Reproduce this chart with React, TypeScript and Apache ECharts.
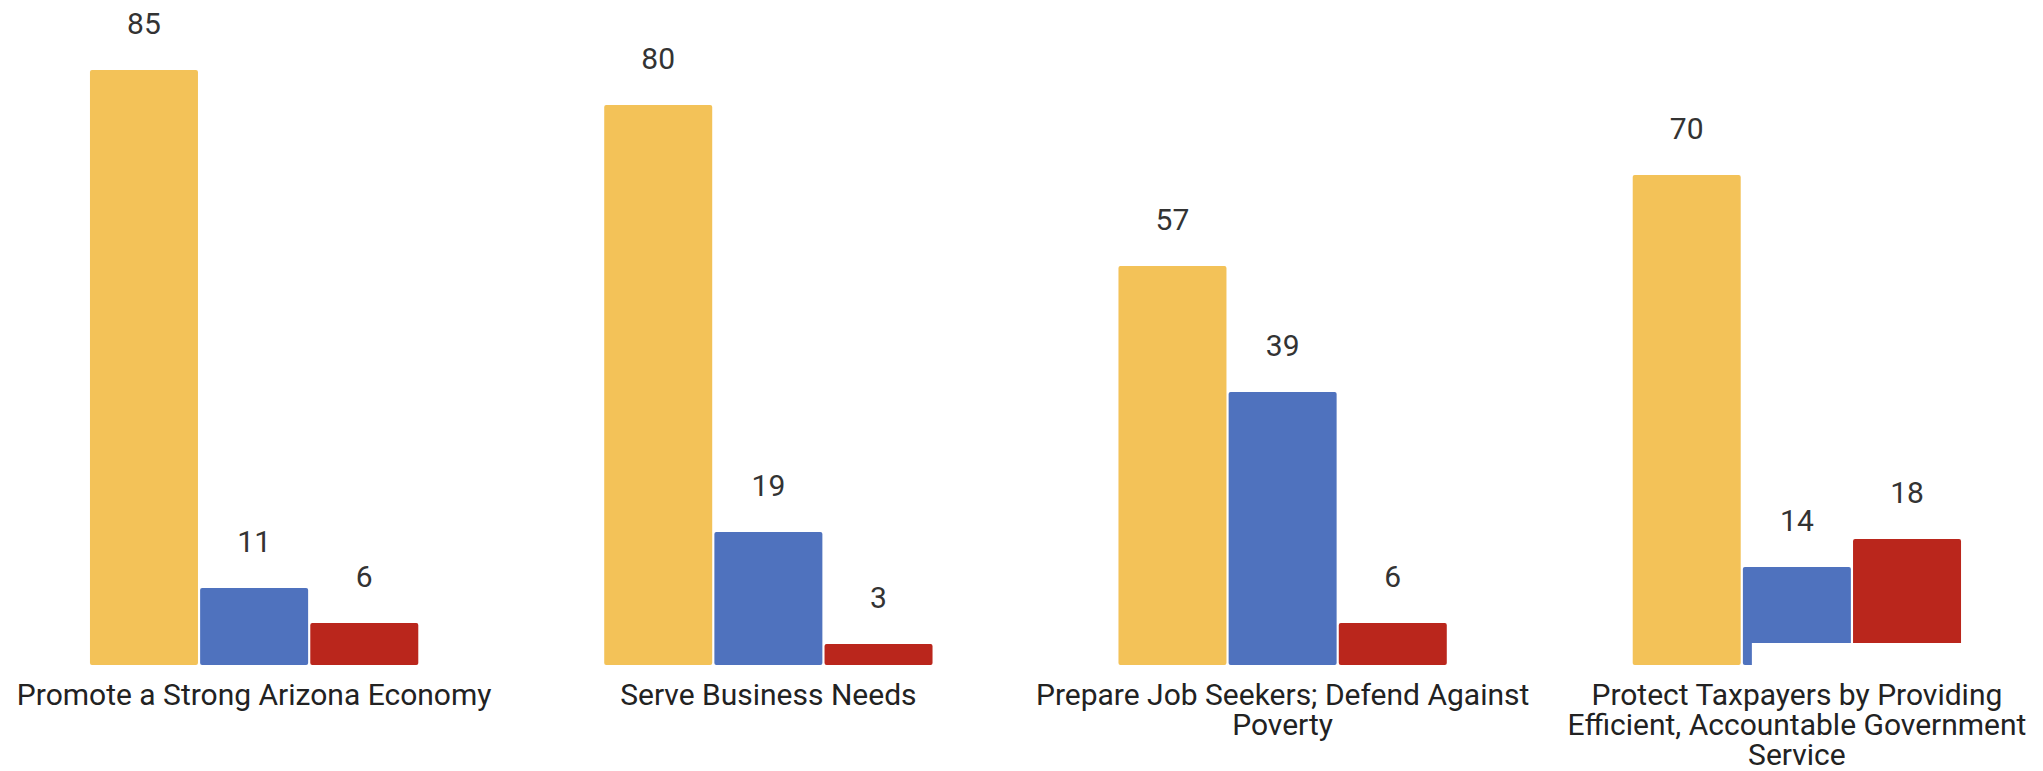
import React, { useEffect, useRef } from "react";
import * as echarts from "echarts";

const categories = [
  "Promote a Strong Arizona Economy",
  "Serve Business Needs",
  "Prepare Job Seekers; Defend Against\nPoverty",
  "Protect Taxpayers by Providing\nEfficient, Accountable Government\nService",
];
const seriesNames = ["Yellow", "Blue", "Red"];
const yellowValues = [85, 80, 57, 70];
const blueValues = [11, 19, 39, 14];
const redValues = [6, 3, 6, 18];
const colors = ["#F3C258", "#4F72BE", "#BA261C"];

export default function App() {
  const ref = useRef<HTMLDivElement>(null);
  useEffect(() => {
    if (!ref.current) return;
    const chart = echarts.init(ref.current, null, { renderer: "svg" });
    const values = [yellowValues, blueValues, redValues];
    chart.setOption({
      animation: false,
      backgroundColor: "#ffffff",
      grid: { left: -3, right: -11, top: 35, bottom: 106, containLabel: false, outerBoundsMode: "none" },
      xAxis: {
        type: "category",
        data: categories,
        axisLine: { show: false },
        axisTick: { show: false },
        axisLabel: {
          interval: 0,
          margin: 14,
          fontFamily: "Roboto",
          fontSize: 30,
          lineHeight: 30,
          color: "#222222",
          align: "center",
        },
      },
      yAxis: {
        type: "value",
        min: 0,
        max: 90,
        show: false,
        splitLine: { show: false },
      },
      series: values.map((v, i) => ({
        name: seriesNames[i],
        type: "bar",
        data: v,
        barWidth: 108,
        barGap: "2%",
        itemStyle: { color: colors[i], borderRadius: 2 },
        label: {
          show: true,
          position: "top",
          distance: 32,
          fontFamily: "Roboto",
          fontSize: 30,
          color: "#333333",
        },
      })),
    });
    // Reproduce the white band covering the bottom of the last group's blue/red bars
    const base = chart.convertToPixel({ yAxisIndex: 0 }, 0) as number;
    const cx = chart.convertToPixel({ xAxisIndex: 0 }, categories[3]) as number;
    chart.setOption({
      graphic: [
        {
          type: "rect",
          z: 100,
          shape: { x: cx - 45, y: base - 22, width: 213, height: 24 },
          style: { fill: "#ffffff" },
        },
      ],
    });
    return () => chart.dispose();
  }, []);
  return (
    <div
      ref={ref}
      style={{ position: "absolute", left: 0, top: 0, width: 2043, height: 771 }}
    />
  );
}
